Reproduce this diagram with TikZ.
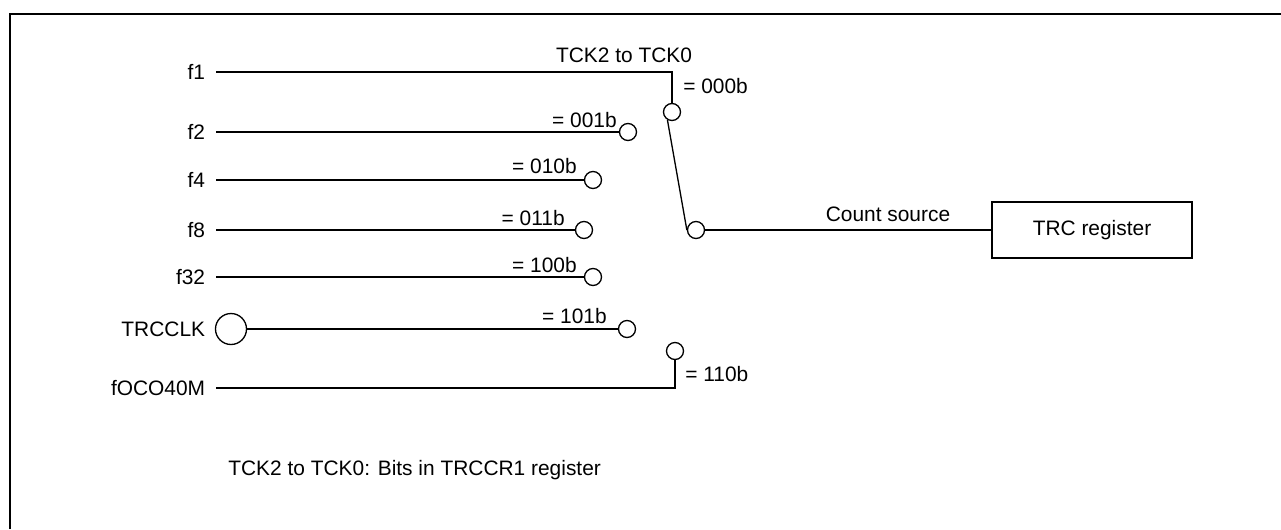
\documentclass[tikz,border=0pt]{standalone}
\usepackage{fontspec}
\setmainfont{Liberation Sans}
\usepackage{tikz}
\usetikzlibrary{calc, positioning}

\tikzset{
    wire/.style = {line width=0.75pt},
    contact/.style = {circle, draw, line width=0.75pt, minimum size=0.34cm, inner sep=0pt},
    srclabel/.style = {anchor=east, inner ysep=0pt, inner xsep=6pt},
    codelabel/.style = {inner sep=0pt},
}

\begin{document}
\begin{tikzpicture} [x=0.02cm, y=-0.02cm, font=\fontsize{11.9}{14}\selectfont]
        \useasboundingbox (0,0) rectangle (1281,529);
        % frame
        \draw[line width=1.1pt] (10,529) -- (10,14) -- (1281,14);

        % sources
        \node[srclabel] (f1) at (216,72) {f1};
        \node[srclabel] (f2) at (216,132) {f2};
        \node[srclabel] (f4) at (216,180) {f4};
        \node[srclabel] (f8) at (216,230) {f8};
        \node[srclabel] (f32) at (216,277) {f32};
        \node[srclabel] (trcclk) at (216,329) {TRCCLK};
        \node[srclabel] (foco) at (216,388) {fOCO40M};
        \node[circle, draw, line width=0.75pt, minimum size=0.62cm, inner sep=0pt] (clkpin) at (231,329) {};

        % selector contacts
        \node[contact] (c000) at (672,112) {};
        \node[contact] (c001) at (628,132) {};
        \node[contact] (c010) at (593,180) {};
        \node[contact] (c011) at (584,230) {};
        \node[contact] (c100) at (593,277) {};
        \node[contact] (c101) at (627,329) {};
        \node[contact] (c110) at (675,351) {};
        \node[contact] (pivot) at (696,230) {};

        \draw[wire] (f1.east) -| (c000.north);
        \draw[wire] (f2.east) -- (c001.west);
        \draw[wire] (f4.east) -- (c010.west);
        \draw[wire] (f8.east) -- (c011.west);
        \draw[wire] (f32.east) -- (c100.west);
        \draw[wire] (clkpin.east) -- (c101.west);
        \draw[wire] (foco.east) -| (c110.south);
        \draw[wire] (c000.240) -- (pivot.180);

        % codes
        \node[codelabel, anchor=base] at (624,62) {TCK2 to TCK0};
        \node[codelabel, anchor=base west] at (683,93) {= 000b};
        \node[codelabel, anchor=base east] at (617,127) {= 001b};
        \node[codelabel, anchor=base east] at (577,173) {= 010b};
        \node[codelabel, anchor=base east] at (565,225) {= 011b};
        \node[codelabel, anchor=base east] at (577,272) {= 100b};
        \node[codelabel, anchor=base east] at (607,323) {= 101b};
        \node[codelabel, anchor=base west] at (685,381) {= 110b};

        % register
        \node[draw, line width=0.75pt, minimum width=4cm, minimum height=1.12cm] (trc) at (1092,230) {TRC register};
        \draw[wire] (pivot.east) -- (trc.west);
        \node[codelabel, anchor=base] (cnt) at (888,221) {Count source};

        \node[codelabel, anchor=base west] (note) at (228,475) {TCK2 to TCK0: Bits in TRCCR1 register};
    \end{tikzpicture}
\end{document}
